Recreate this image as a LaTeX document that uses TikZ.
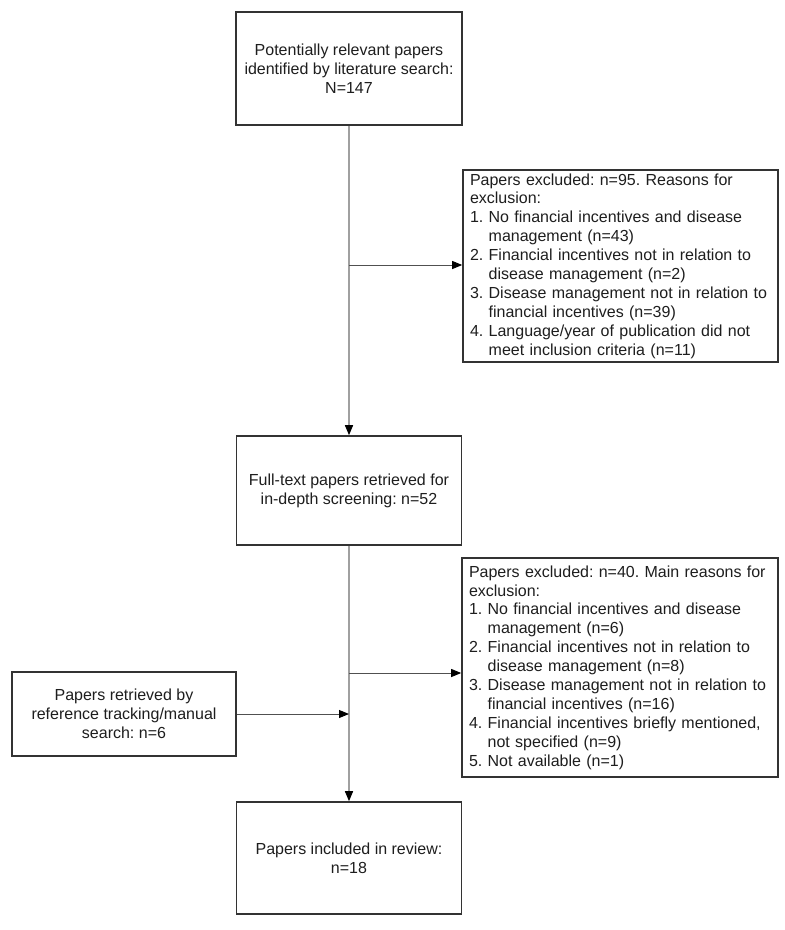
\documentclass[tikz,border=0pt]{standalone}
\usepackage{fontspec}
\setmainfont{Liberation Sans}
\usetikzlibrary{arrows.meta}
\definecolor{boxline}{HTML}{333333}
\definecolor{vgray}{HTML}{A0A0A0}
\definecolor{hgray}{HTML}{505050}
\definecolor{txt}{HTML}{1E1E1E}
\frenchspacing
\begin{document}
\begin{tikzpicture}[x=1pt,y=-1pt,
  box/.style={draw=boxline,line width=1.6pt,fill=white,text=txt,inner sep=0pt,
    font=\fontsize{16}{19.2}\selectfont\frenchspacing,align=center},
  listbox/.style={box,align=left,inner xsep=7pt,inner ysep=2.5pt,
    font=\fontsize{16}{18.9}\selectfont\frenchspacing},
  vline/.style={draw=vgray,line width=1.5pt},
  hline/.style={draw=hgray,line width=0.9pt},
  tip/.style={-{Triangle[length=10pt,width=8pt,color=black]}}]
\useasboundingbox (0,0) rectangle (785,930);
\newcommand{\ind}{\phantom{2. }}
\node[box,minimum width=226pt,minimum height=113pt] (s1) at (349,68.5)
  {Potentially relevant papers\\identified by literature search:\\N=147};
\node[listbox,text width=301pt,minimum height=192pt] (x1) at (620.5,266)
  {Papers excluded: n=95. Reasons for\\exclusion:\\
   1. No financial incentives and disease\\\ind management (n=43)\\
   2. Financial incentives not in relation to\\\ind disease management (n=2)\\
   3. Disease management not in relation to\\\ind financial incentives (n=39)\\
   4. Language/year of publication did not\\\ind meet inclusion criteria (n=11)};
\node[box,minimum width=225pt,minimum height=109pt] (s2) at (349,490.5)
  {Full-text papers retrieved for\\in-depth screening: n=52};
\node[listbox,text width=302pt,minimum height=219pt] (x2) at (620,667.5)
  {Papers excluded: n=40. Main reasons for\\exclusion:\\
   1. No financial incentives and disease\\\ind management (n=6)\\
   2. Financial incentives not in relation to\\\ind disease management (n=8)\\
   3. Disease management not in relation to\\\ind financial incentives (n=16)\\
   4. Financial incentives briefly mentioned,\\\ind not specified (n=9)\\
   5. Not available (n=1)};
\node[box,minimum width=224pt,minimum height=84pt] (r) at (124,714)
  {Papers retrieved by\\reference tracking/manual\\search: n=6};
\node[box,minimum width=225pt,minimum height=112pt] (s3) at (349,858)
  {Papers included in review:\\n=18};
\coordinate (b1) at (349,265);
\coordinate (b2) at (349,673);
\draw[vline,tip] (s1.south) -- (s2.north);
\draw[vline,tip] (s2.south) -- (s3.north);
\draw[hline,tip] (b1) -- (b1 -| x1.west);
\draw[hline,tip] (b2) -- (b2 -| x2.west);
\draw[hline,tip] (r.east) -- (r.east -| s2.south);
\end{tikzpicture}
\end{document}
